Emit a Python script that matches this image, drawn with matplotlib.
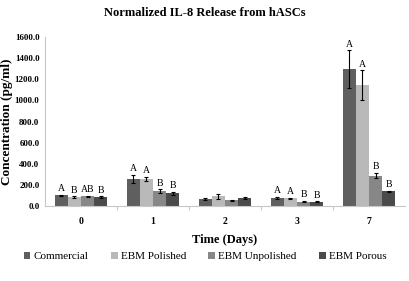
import matplotlib
matplotlib.use("Agg")
import matplotlib.pyplot as plt
import numpy as np

days = ["0", "1", "2", "3", "7"]
series = ["Commercial", "EBM Polished", "EBM Unpolished", "EBM Porous"]

commercial = [100, 260, 70, 75, 1295]
polished = [85, 255, 92, 72, 1145]
unpolished = [92, 142, 52, 42, 288]
porous = [82, 122, 74, 40, 138]

commercial_err = [8, 38, 10, 10, 180]
polished_err = [8, 22, 25, 8, 140]
unpolished_err = [6, 18, 6, 5, 25]
porous_err = [10, 15, 10, 5, 6]

letters = {
    "Commercial":     ["A", "A", "", "A", "A"],
    "EBM Polished":   ["B", "A", "", "A", "A"],
    "EBM Unpolished": ["AB", "B", "", "B", "B"],
    "EBM Porous":     ["B", "B", "", "B", "B"],
}

values = [commercial, polished, unpolished, porous]
errors = [commercial_err, polished_err, unpolished_err, porous_err]
colors = ["#5f5f5f", "#b9b9b9", "#878787", "#4b4b4b"]

plt.rcParams["font.family"] = ["Liberation Serif", "DejaVu Serif"]

fig = plt.figure(figsize=(4.09, 2.81), dpi=100)
ax = fig.add_axes([0.110, 0.267, 0.880, 0.601])

x = np.arange(len(days))
width = 0.183
n = len(series)

for i, name in enumerate(series):
    offset = (i - (n - 1) / 2) * width
    ax.bar(x + offset, values[i], width, color=colors[i], label=name,
           yerr=errors[i], error_kw=dict(ecolor="black", elinewidth=0.8,
                                         capsize=1.5, capthick=0.8))
    for j in range(len(days)):
        lab = letters[name][j]
        if lab:
            ax.text(x[j] + offset, values[i][j] + errors[i][j] + 15, lab,
                    ha="center", va="bottom", fontsize=7)

ax.set_xlim(-0.5, len(days) - 0.5)
ax.set_ylim(0, 1600)
ax.set_yticks(np.arange(0, 1601, 200))
ax.set_yticklabels([f"{v:.1f}" for v in np.arange(0, 1601, 200)],
                   fontsize=6.5, fontweight="bold")
ax.set_xticks(x)
ax.set_xticklabels(days, fontsize=7, fontweight="bold")
ax.set_xticks(np.arange(0.5, len(days) - 0.5), minor=True)
ax.tick_params(axis="x", which="major", length=0, pad=8)
ax.tick_params(axis="x", which="minor", length=3, color="#c8c8c8", width=0.8)
ax.tick_params(axis="y", length=0, pad=4)

for s in ["top", "right"]:
    ax.spines[s].set_visible(False)
ax.spines["left"].set_color("#c8c8c8")
ax.spines["bottom"].set_color("#c8c8c8")

ax.set_xlabel("Time (Days)", fontsize=9, fontweight="bold", labelpad=6)
ax.set_ylabel("Concentration (pg/ml)", fontsize=9.5, fontweight="bold")
ax.yaxis.set_label_coords(-0.088, 0.5)
fig.text(0.5, 0.955, "Normalized IL-8 Release from hASCs", ha="center",
         va="center", fontsize=9, fontweight="bold")

ax.legend(loc="center", bbox_to_anchor=(0.445, -0.30), ncol=4, frameon=False,
          fontsize=8, handlelength=0.6, handleheight=0.6,
          handletextpad=0.3, columnspacing=2.0)

fig.savefig("out.png", dpi=100)
